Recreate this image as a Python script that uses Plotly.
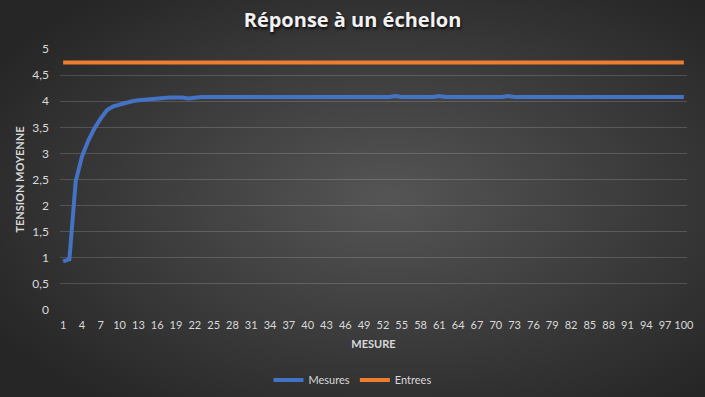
import base64
import plotly.graph_objects as go

# ---- data ----
mesure = list(range(1, 101))
mesures = [0.93, 0.97, 2.46, 2.94, 3.24, 3.48, 3.67, 3.83, 3.90, 3.94,
           3.98, 4.00, 4.02, 4.03, 4.05, 4.05, 4.06, 4.07, 4.07, 4.07,
           4.05, 4.07, 4.08, 4.08, 4.08, 4.08, 4.08, 4.08, 4.08, 4.08,
           4.08, 4.08, 4.08, 4.08, 4.08, 4.08, 4.08, 4.08, 4.08, 4.08,
           4.08, 4.08, 4.08, 4.08, 4.08, 4.08, 4.08, 4.08, 4.08, 4.08,
           4.08, 4.08, 4.08, 4.10, 4.08, 4.08, 4.08, 4.08, 4.08, 4.08,
           4.10, 4.08, 4.08, 4.08, 4.08, 4.08, 4.08, 4.08, 4.08, 4.08,
           4.08, 4.10, 4.08, 4.08, 4.08, 4.08, 4.08, 4.08, 4.08, 4.08,
           4.08, 4.08, 4.08, 4.08, 4.08, 4.08, 4.08, 4.08, 4.08, 4.08,
           4.08, 4.08, 4.08, 4.08, 4.08, 4.08, 4.08, 4.08, 4.08, 4.08]
entrees = [4.74, 4.74, 4.74, 4.74, 4.74, 4.74, 4.74, 4.74, 4.74, 4.74,
           4.74, 4.74, 4.74, 4.74, 4.74, 4.74, 4.74, 4.74, 4.74, 4.74,
           4.74, 4.74, 4.74, 4.74, 4.74, 4.74, 4.74, 4.74, 4.74, 4.74,
           4.74, 4.74, 4.74, 4.74, 4.74, 4.74, 4.74, 4.74, 4.74, 4.74,
           4.74, 4.74, 4.74, 4.74, 4.74, 4.74, 4.74, 4.74, 4.74, 4.74,
           4.74, 4.74, 4.74, 4.74, 4.74, 4.74, 4.74, 4.74, 4.74, 4.74,
           4.74, 4.74, 4.74, 4.74, 4.74, 4.74, 4.74, 4.74, 4.74, 4.74,
           4.74, 4.74, 4.74, 4.74, 4.74, 4.74, 4.74, 4.74, 4.74, 4.74,
           4.74, 4.74, 4.74, 4.74, 4.74, 4.74, 4.74, 4.74, 4.74, 4.74,
           4.74, 4.74, 4.74, 4.74, 4.74, 4.74, 4.74, 4.74, 4.74, 4.74]
x_ticks = list(range(1, 101, 3))
y_ticks = [0, 0.5, 1, 1.5, 2, 2.5, 3, 3.5, 4, 4.5, 5]
y_ticktext = ["0", "0,5", "1", "1,5", "2", "2,5", "3", "3,5", "4", "4,5", "5"]

W, H = 705, 397
L, R, T, B = 60, 18, 49, 87
pw, ph = W - L - R, H - T - B

svg = f'''<svg xmlns="http://www.w3.org/2000/svg" width="{W}" height="{H}" viewBox="0 0 {W} {H}" preserveAspectRatio="none">
<defs><radialGradient id="g" cx="55%" cy="50%" r="65%">
<stop offset="0%" stop-color="#555555"/><stop offset="100%" stop-color="#262626"/>
</radialGradient></defs><rect width="{W}" height="{H}" fill="url(#g)"/></svg>'''
bg = "data:image/svg+xml;base64," + base64.b64encode(svg.encode()).decode()

FONT = "Lato"
fig = go.Figure()
fig.add_trace(go.Scatter(x=mesure, y=mesures, mode="lines", name="Mesures",
                         line=dict(color="#4472C4", width=4)))
fig.add_trace(go.Scatter(x=mesure, y=entrees, mode="lines", name="Entrees",
                         line=dict(color="#ED7D31", width=4)))

fig.update_layout(
    width=W, height=H,
    margin=dict(l=L, r=R, t=T, b=B, autoexpand=False),
    paper_bgcolor="#2c2c2c", plot_bgcolor="rgba(0,0,0,0)",
    images=[dict(source=bg, xref="paper", yref="paper", x=-L / pw, y=1 + T / ph,
                 sizex=W / pw, sizey=H / ph, sizing="stretch", layer="below",
                 xanchor="left", yanchor="top")],
    title=dict(text="<b>Réponse à un échelon</b>", x=0.5, xanchor="center",
               xref="container", y=1 - 20 / H, yanchor="middle",
               font=dict(family="Open Sans", size=20, color="#F2F2F2",
                         shadow="1px 2px 3px rgba(0,0,0,0.8)")),
    font=dict(family=FONT, color="#D9D9D9", size=12),
    xaxis=dict(range=[0.5, 100.5], tickmode="array", tickvals=x_ticks,
               showgrid=False, zeroline=False, showline=False, ticks="",
               tickangle=0, automargin=False, ticklabelstandoff=7,
               tickfont=dict(size=11, color="#D9D9D9"),
               title=dict(text="<b>MESURE</b>", font=dict(size=11, color="#D9D9D9"),
                          standoff=10)),
    yaxis=dict(range=[0, 5], tickmode="array", tickvals=y_ticks, ticktext=y_ticktext,
               showgrid=True, gridcolor="rgba(255,255,255,0.16)", gridwidth=1,
               zeroline=False, showline=False, ticks="", ticklabelstandoff=10,
               automargin=False,
               tickfont=dict(size=12, color="#D9D9D9"),
               title=dict(text="<b>TENSION MOYENNE</b>", font=dict(size=11, color="#D9D9D9"),
                          standoff=5)),
    legend=dict(orientation="h", xref="container", x=0.5, xanchor="center",
                y=-(380 - (T + ph)) / ph,
                yanchor="middle", bgcolor="rgba(0,0,0,0)",
                font=dict(size=11, color="#D9D9D9"), itemwidth=30,
                tracegroupgap=0),
    showlegend=True,
)
fig.write_html("out.html", config={"displayModeBar": False},
               post_script="document.body.style.margin='0';document.body.style.background='#2c2c2c';")
